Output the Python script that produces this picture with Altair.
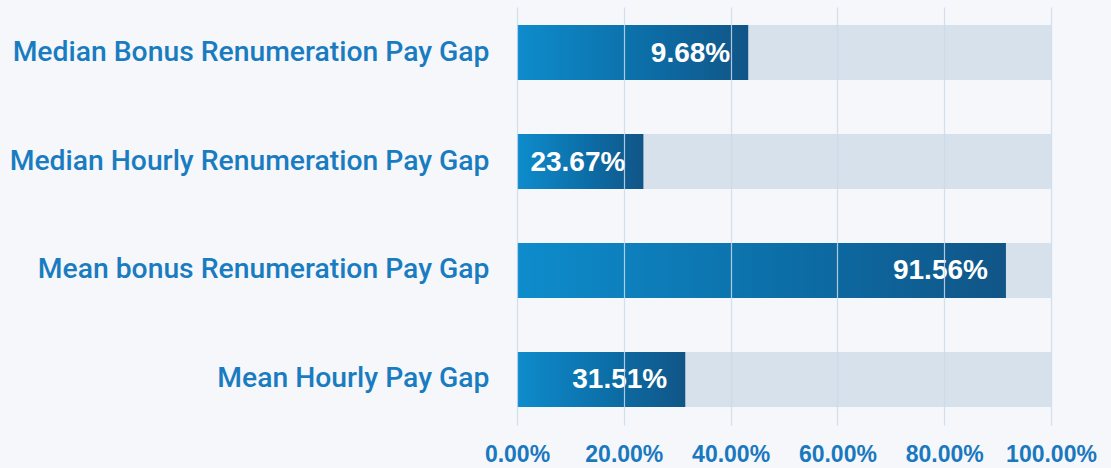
import altair as alt
import pandas as pd

categories = [
    "Median Bonus Renumeration Pay Gap",
    "Median Hourly Renumeration Pay Gap",
    "Mean bonus Renumeration Pay Gap",
    "Mean Hourly Pay Gap",
]
bar_values = [43.3, 23.67, 91.56, 31.51]
bar_labels = ["9.68%", "23.67%", "91.56%", "31.51%"]
full_values = [100, 100, 100, 100]
x_ticks = [0, 20, 40, 60, 80, 100]

df = pd.DataFrame({
    "category": categories,
    "value": bar_values,
    "label": bar_labels,
    "full": full_values,
})

y_enc = alt.Y(
    "category:N",
    sort=categories,
    title=None,
    scale=alt.Scale(paddingInner=0.495, paddingOuter=0.165),
    axis=alt.Axis(
        ticks=False, domain=False, grid=False,
        labelFont="Roboto", labelFontWeight=500, labelFontSize=28.3,
        labelColor="#1a7cc0", labelPadding=28, labelLimit=600,
    ),
)

x_scale = alt.Scale(domain=[0, 100], nice=False)
x_axis = alt.Axis(
    values=x_ticks,
    labelExpr="format(datum.value, '.2f') + '%'",
    ticks=False, domain=False, grid=True,
    gridColor="#cddaea", gridOpacity=0.85, gridWidth=1.2,
    labelFont="Liberation Sans", labelFontWeight="bold", labelFontSize=23,
    labelColor="#1a78be", labelPadding=18, zindex=1,
    labelOverlap=False, labelFlush=False, labelBound=False,
    title=None,
)

bg = alt.Chart(df).mark_bar(color="#d7e1ec", cornerRadius=0).encode(
    x=alt.X("full:Q", scale=x_scale, axis=x_axis),
    y=y_enc,
)

grad = alt.Gradient(
    gradient="linear",
    stops=[
        alt.GradientStop(color="#0e8ccc", offset=0),
        alt.GradientStop(color="#0c6ea7", offset=0.55),
        alt.GradientStop(color="#115587", offset=1),
    ],
    x1=0, x2=1, y1=0, y2=0,
)

bars = alt.Chart(df).mark_bar(color=grad).encode(
    x=alt.X("value:Q", scale=x_scale),
    y=alt.Y("category:N", sort=categories),
)

text = alt.Chart(df).mark_text(
    align="right", baseline="middle", dx=-18, dy=1,
    font="Liberation Sans", fontWeight="bold", fontSize=28, color="white",
).encode(
    x=alt.X("value:Q", scale=x_scale),
    y=alt.Y("category:N", sort=categories),
    text="label:N",
)

chart = alt.layer(bg, bars, text).properties(
    width=534, height=418,
    background="#f5f7fb",
    padding={"left": 517, "top": 7, "right": 60, "bottom": 43},
    autosize=alt.AutoSizeParams(type="none"),
).configure_view(stroke=None)

chart.save("out.html", embed_options={"renderer": "svg", "actions": False})
